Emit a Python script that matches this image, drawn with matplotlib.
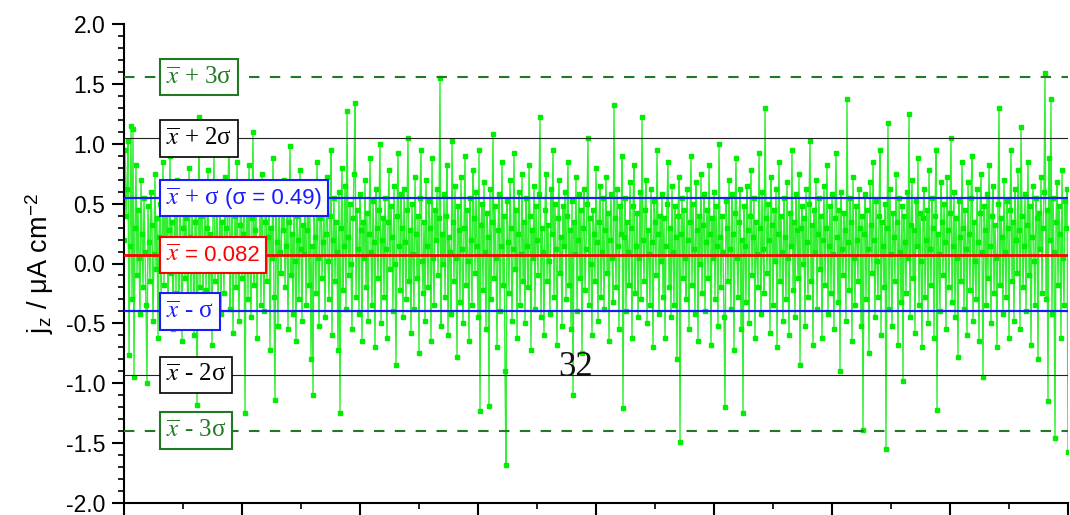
import numpy as np
import matplotlib.pyplot as plt
from matplotlib.ticker import MultipleLocator, FormatStrFormatter
from matplotlib.offsetbox import TextArea, HPacker, DrawingArea, AnnotationBbox

plt.rcParams['font.family'] = ['Liberation Sans', 'DejaVu Sans']
plt.rcParams['mathtext.fontset'] = 'stix'
plt.rcParams['axes.unicode_minus'] = False

# current density readings (uA cm^-2) left to right
jz = np.array([
    0.20, 0.95, 0.40, 0.62, 1.02, -0.76, 0.15, 1.15, -0.30, 1.12, -0.95, 0.30, 0.82, -0.10, 0.45, 0.05, -0.42, 0.70, 0.25, -0.20,
    0.55, 0.10, -0.35, -1.00, 0.48, 0.18, -0.15, 0.60, 0.32, -0.48, 0.08, 0.75, -0.05, 0.38, -0.62, 0.22, 0.50, -0.28, 0.12, 0.85,
    -0.18, 0.42, 0.05, 0.65, -0.40, 0.28, 0.90, -0.08, 0.35, -0.55, 0.15, 0.52, -0.25, 0.70, 0.02, -0.38, 0.45, 0.18, -0.65, 0.30,
    0.60, -0.12, 0.38, 0.00, -0.45, 0.80, 0.22, -0.30, 0.48, 0.10, -0.60, 0.35, 0.58, -1.18, 0.05, 1.22, -0.20, 0.40, 0.68, -0.35,
    0.12, 0.50, -0.22, 0.30, 0.78, -0.50, 0.25, 0.05, -0.68, 0.45, 0.92, -0.15, 0.20, 0.55, -0.32, 0.08, 0.62, -0.42, 0.35, 0.15,
    -0.25, 0.72, 0.30, -0.05, 0.48, 1.18, -0.38, 0.18, 0.58, -0.58, 0.10, 0.40, -0.20, 0.85, 0.02, -0.48, 0.32, 0.65, -0.12, 0.25,
    0.45, -1.25, 0.15, 0.55, -0.30, 0.82, 0.08, -0.45, 0.38, 1.10, -0.18, 0.28, 0.60, -0.62, 0.20, 0.00, 0.48, -0.35, 0.75, 0.12,
    -0.40, 0.35, 0.62, -0.15, 0.22, 0.50, -0.72, 0.30, 0.05, 0.88, -0.28, -1.14, 0.42, 0.18, -0.52, 0.65, 0.10, -0.08, 0.52, 0.28,
    0.70, -0.20, 0.15, 0.45, -0.55, 0.35, 0.98, -0.10, 0.25, -0.42, 0.58, 0.02, -0.65, 0.40, 0.20, -0.30, 0.78, 0.12, -0.48, 0.32,
    0.08, 0.55, -0.35, 0.28, 0.68, -0.18, 0.42, -0.80, 0.15, -1.10, 0.50, 0.22, -0.25, 0.85, 0.05, -0.52, 0.38, 0.62, -0.12, 0.18,
    0.48, -0.45, 0.25, 0.72, 0.02, -0.30, 0.40, 0.95, -0.60, 0.20, 0.55, -0.15, 0.35, 0.10, -0.72, 0.60, -1.25, 0.30, 0.80, -0.22,
    0.15, 0.65, -0.38, 1.27, 0.22, -0.10, 0.50, 0.00, -0.55, 0.38, 0.75, 1.34, -0.28, 0.45, 0.12, -0.42, 0.58, 0.28, -0.65, 0.35,
    0.05, 0.70, -0.20, 0.42, -0.48, 0.25, 0.88, 0.10, -0.35, 0.52, 0.18, -0.70, 0.62, 0.30, -0.12, 0.45, 1.00, -0.50, 0.20, 0.38,
    -0.28, 0.55, 0.12, -0.62, 0.35, 0.78, -0.05, 0.48, 0.22, -0.40, 0.65, 0.00, -0.85, 0.40, 0.92, 0.15, -0.22, 0.58, 0.30, -0.45,
    0.62, 0.18, -0.30, 0.45, 1.05, -0.15, 0.28, -0.58, 0.50, 0.08, -0.38, 0.72, 0.25, -0.12, 0.40, -0.75, 0.55, 0.95, 0.02, -0.25,
    0.35, -0.48, 0.70, 0.15, -0.20, 0.52, 0.30, -0.65, 0.88, 0.05, -0.35, 0.45, 0.20, 0.62, -0.10, 0.38, 1.55, -0.52, 0.25, 0.00,
    0.58, -0.28, 0.40, 0.82, -0.60, 0.22, 0.10, -0.42, 1.02, 0.35, -0.15, 0.65, 0.05, -0.78, 0.48, 0.28, -0.32, 0.72, 0.12, -0.50,
    0.30, 0.90, -0.18, 0.45, 0.02, -0.65, 0.55, 0.20, -0.35, 0.78, 0.38, -0.08, 0.60, 0.15, -0.45, 0.95, -1.23, 0.32, 0.50, -0.22,
    0.68, 0.10, -0.55, 0.42, 0.22, -1.19, 0.62, -0.30, 0.35, 1.08, -0.12, 0.48, 0.05, -0.70, 0.28, 0.58, -0.40, 0.15, 0.85, -0.18,
    0.40, -0.90, -1.68, 0.52, 0.18, -0.25, 0.70, 0.30, -0.48, 0.12, 0.92, -0.05, 0.45, -0.62, 0.25, 0.60, -0.35, 0.08, 0.75, -0.15,
    0.35, -0.50, 0.55, 0.15, -0.20, 0.82, 0.40, -0.72, 0.28, 0.05, 0.65, -0.38, 0.48, 0.20, -0.10, 0.58, 1.22, -0.45, 0.30, 0.10,
    -0.60, 0.45, 0.75, -0.15, 0.32, 0.02, -0.42, 0.62, 0.25, 0.95, -0.28, 0.50, 0.12, -0.68, 0.38, 0.70, -0.08, 0.22, -0.52, 0.48,
    0.15, 0.60, -0.30, 0.40, 0.85, -0.18, 0.28, -0.55, 0.52, -1.10, 0.35, 0.08, 0.72, -0.40, 0.20, 0.58, -0.12, 0.45, -0.75, 0.30,
    0.62, -0.22, 0.12, 0.50, 1.05, -0.35, 0.38, 0.00, -0.60, 0.45, 0.25, -0.15, 0.80, 0.18, -0.48, 0.35, 0.65, -0.28, 0.10, 0.55,
    -0.38, 0.28, 0.72, -0.08, 0.42, -0.65, 0.20, 0.58, 0.05, -0.32, 1.32, 0.38, -0.20, 0.62, 0.15, -0.55, 0.48, 0.25, 0.90, -1.21,
    0.22, 0.55, -0.40, 0.35, 0.10, -0.18, 0.68, 0.30, -0.62, 0.48, 0.82, -0.25, 0.15, 0.42, -0.45, 0.05, 0.60, -0.30, 1.22, 0.20,
    -0.15, 0.45, 0.70, -0.50, 0.28, 0.08, -0.35, 0.62, 0.18, -0.70, 0.52, 0.35, -0.10, 0.95, 0.25, -0.42, 0.40, 0.02, 0.58, -0.28,
    0.38, -0.62, 0.15, 0.50, 0.85, -0.20, 0.30, -0.45, 0.65, 0.10, -0.35, 0.48, 0.22, -0.80, 0.40, 0.72, -1.49, 0.25, 0.55, -0.12,
    0.45, 0.05, -0.30, 0.62, 0.20, -0.55, 0.35, 0.90, -0.18, 0.50, 0.12, -0.42, 0.68, 0.28, -0.65, 0.40, 0.00, 0.75, -0.25, 0.32,
    0.58, -0.40, 0.18, 0.45, -0.12, 0.82, 0.25, -0.68, 0.38, 0.05, 0.60, -0.30, 0.48, 0.15, -0.52, 1.00, 0.22, -0.20, 0.40, 0.10,
    -0.45, -1.20, 0.52, 0.30, -0.15, 0.70, 0.12, -0.38, 0.58, 0.25, -0.72, 0.42, 0.88, 0.05, -0.28, 0.35, 0.62, -0.55, 0.20, -1.25,
    0.48, 0.15, -0.32, 0.65, 0.28, -0.50, 0.40, 0.78, -0.10, 0.22, 0.55, -0.62, 0.35, 0.08, -0.20, 0.92, 0.30, -0.42, 0.60, 0.12,
    -0.25, 1.30, 0.38, -0.08, 0.50, 0.20, -0.58, 0.72, 0.32, -0.35, 0.45, 0.02, 0.62, -0.70, 0.25, 0.85, -0.15, 0.40, 0.10, -0.48,
    0.55, 0.22, -0.30, 0.68, 0.05, -0.60, 0.42, 0.15, 0.95, -0.22, 0.35, -0.45, 0.58, 0.28, -0.12, 0.75, -0.85, 0.30, 0.48, 0.00,
    0.38, -0.52, 0.62, 0.18, -0.28, 0.50, 1.02, -0.15, 0.32, -0.68, 0.45, 0.10, 0.70, -0.38, 0.25, 0.55, -0.05, 0.40, -0.62, 0.20,
    0.65, -0.18, 0.30, 0.82, -0.42, 0.15, 0.48, -0.25, 0.58, 0.08, -0.55, 0.38, 0.92, 0.22, -0.32, 0.45, -0.90, 0.60, 0.12, -0.10,
    0.42, 0.28, -0.48, 1.37, 0.18, -0.22, 0.55, 0.35, -0.65, 0.72, 0.05, -0.35, 0.48, 0.20, -0.15, 0.62, 0.30, -0.52, 0.40, -1.39,
    0.25, 0.58, -0.30, 0.45, 0.12, -0.75, 0.68, 0.32, -0.08, 0.85, 0.20, -0.45, 0.52, 0.02, -0.28, 0.40, 0.95, -0.60, 0.35, 0.15,
    -0.20, 0.50, -1.55, 0.30, 1.17, -0.38, 0.62, 0.08, -0.52, 0.42, 0.22, -0.15, 0.75, 0.35, -0.68, 0.55, 0.10, -0.32, 0.48, -0.98,
    0.40, 0.18, -0.25, 0.60, 0.05, 1.25, -0.45, 0.32, 0.70, -0.12, 0.28, -0.58, 0.52, 0.15, 0.88, -0.35, 0.42, 0.02, -0.70, 0.38,
    0.62, -0.28, 0.20, 0.45, -0.50, 0.78, 0.12, -0.18, 0.55, 0.30, -0.62, 0.40, 0.95, -1.22, 0.25, 0.08, -0.40, 0.68, 0.35, -0.10,
    0.50, 0.18, -0.55, 0.72, 0.28, -0.20, 0.42, 1.05, -0.32, 0.15, 0.60, -0.45, 0.38, 0.05, -0.78, 0.52, 0.22, -0.15, 0.85, 0.30,
    -0.38, 0.45, 0.12, -0.60, 0.68, 0.25, -0.22, 0.55, 0.90, -0.48, 0.35, 0.02, -0.30, 0.62, 0.18, -0.65, 0.42, 0.75, 0.10, -0.95,
    0.48, 0.28, -0.35, 0.58, -0.12, 0.82, 0.15, -0.50, 0.40, 0.65, -0.25, 0.32, 0.05, -0.70, 0.50, 1.30, -0.18, 0.38, 0.22, -0.42,
    0.70, 0.10, -0.28, 0.52, 0.30, -0.62, 0.45, 0.95, -0.15, 0.35, -0.48, 0.62, 0.20, -0.08, 0.78, 0.28, -0.55, 1.14, 0.40, -0.20,
    0.15, 0.58, -0.40, 0.32, 0.85, -0.10, 0.48, -0.68, 0.22, 0.65, 0.02, -0.35, 0.55, 0.38, -0.80, 0.42, 0.12, 0.72, -0.25, 0.30,
    0.60, 1.59, -0.30, 0.45, -1.15, 0.88, 0.20, 1.37, -0.42, 0.55, 0.10, -1.46, 0.35, 0.68, -0.18, 0.48, 0.25, -0.62, 0.78, 0.05,
    -0.35, 0.52, 0.30, 0.62, -1.57,
])
x = np.arange(len(jz))

# reference levels: mean and +/- 1,2,3 sigma
mean_level = 0.07
sig1_levels = [0.545, -0.40]
sig2_levels = [1.045, -0.93]
sig3_levels = [1.555, -1.395]

green_dk = '#217a21'
blue = '#1a1aff'

fig = plt.figure(figsize=(10.7, 5.15), dpi=100)
ax = fig.add_axes([124/1070, 12/515, 944/1070, 479/515])

ax.plot(x, jz, color='#33ee33', lw=1, marker='s', ms=2.6,
        mfc='#00ee00', mec='#00ee00', zorder=2)

for v in sig3_levels:
    ax.axhline(v, color=green_dk, lw=1.5, ls=(0, (5, 5)), zorder=3)
for v in sig2_levels:
    ax.axhline(v, color='#222222', lw=0.8, zorder=3)
for v in sig1_levels:
    ax.axhline(v, color=blue, lw=1.6, zorder=3)
ax.axhline(mean_level, color='#ff0000', lw=2.0, zorder=3)

# boxed labels
xbar = r'$\overline{x}$'
serif = dict(family='Liberation Serif', size=18)
sans = dict(family='Liberation Sans', size=16)
labels = [
    (sig3_levels[0], [(xbar + ' + 3σ', serif)], green_dk),
    (sig2_levels[0], [(xbar + ' + 2σ', serif)], 'black'),
    (sig1_levels[0], [(xbar + ' + σ', serif), ('(σ = 0.49)', sans)], blue),
    (mean_level, [(xbar, serif), ('= 0.082', sans)], '#ff0000'),
    (sig1_levels[1], [(xbar + ' - σ', serif)], blue),
    (sig2_levels[1], [(xbar + ' - 2σ', serif)], 'black'),
    (sig3_levels[1], [(xbar + ' - 3σ', serif)], green_dk),
]
pad_px = 6.0
for yv, parts, col in labels:
    areas = [TextArea(t, textprops=dict(color=col, **p)) for t, p in parts]
    inner = HPacker(children=areas, align='baseline', pad=0, sep=4)
    strut = DrawingArea(0, 17.5)
    box = HPacker(children=[strut, inner], align='center', pad=0, sep=0)
    ab = AnnotationBbox(box, ((160 + pad_px - 124) / 944, yv),
                        xycoords=ax.get_yaxis_transform(),
                        box_alignment=(0, 0.5), frameon=True,
                        pad=pad_px / (10 * 100 / 72),
                        bboxprops=dict(edgecolor=col, facecolor='white',
                                       lw=1.5 if col != 'black' else 1.2),
                        zorder=5)
    ax.add_artist(ab)

ax.text(0.478, -0.865, '32', transform=ax.get_yaxis_transform(),
        family='Liberation Serif', fontsize=25, ha='center', va='center',
        color='#111111', zorder=6)

ax.set_xlim(0, len(jz) - 1)
ax.set_ylim(-2.0, 2.0)
ax.xaxis.set_major_locator(MultipleLocator((len(jz) - 1) / 8))
ax.xaxis.set_minor_locator(MultipleLocator((len(jz) - 1) / 16))
ax.yaxis.set_major_locator(MultipleLocator(0.5))
ax.yaxis.set_minor_locator(MultipleLocator(0.1))
ax.yaxis.set_major_formatter(FormatStrFormatter('%.1f'))

for s in ['top', 'right']:
    ax.spines[s].set_visible(False)
for s in ['left', 'bottom']:
    ax.spines[s].set_linewidth(1.5)

ax.tick_params(which='major', direction='out', length=8.5, width=1.5,
               labelsize=16.5, pad=5)
ax.tick_params(which='minor', direction='out', length=4.3, width=1.2)
ax.tick_params(axis='x', labelbottom=False)

ax.set_ylabel(r'j$_\mathregular{z}$ / μA cm$^\mathregular{-2}$', fontsize=19.5, labelpad=7)

fig.savefig('out.png', dpi=100)
